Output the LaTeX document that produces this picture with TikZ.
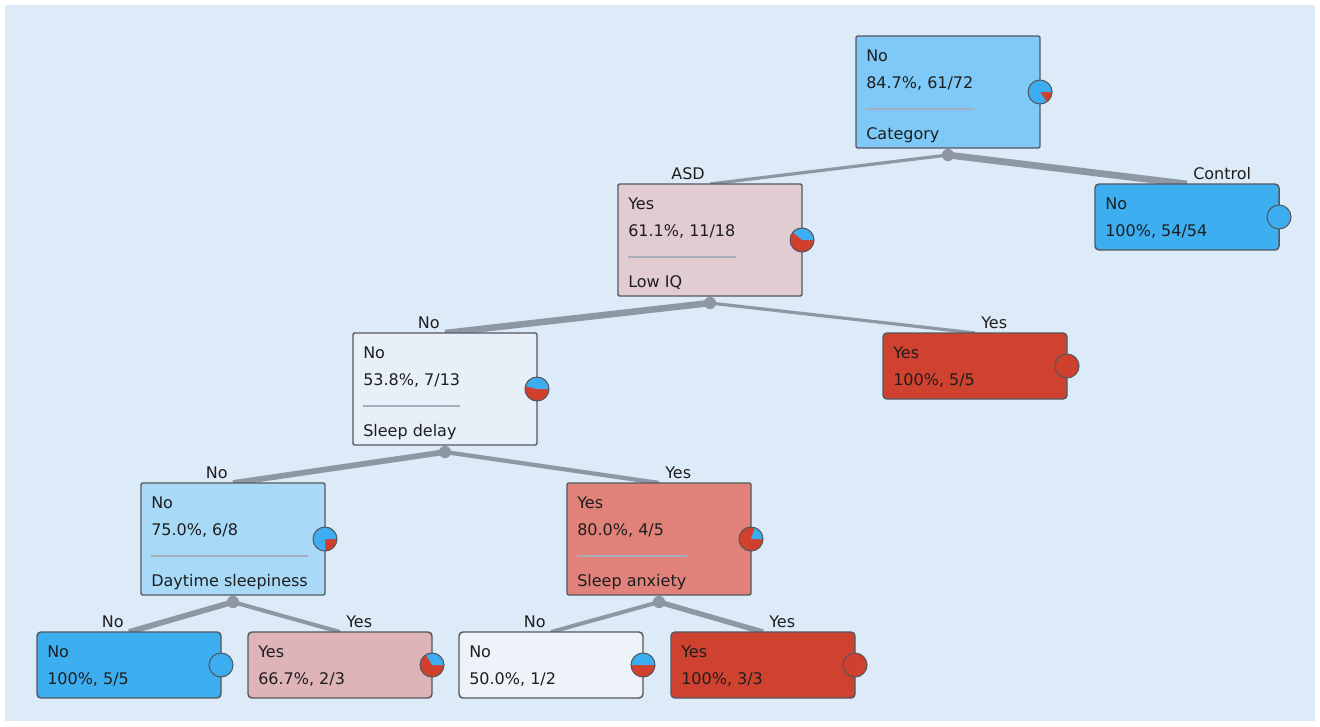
\documentclass[tikz,border=0pt]{standalone}
\usepackage{fontspec}
\setmainfont{DejaVu Sans}
\usetikzlibrary{calc}
\definecolor{panel}{HTML}{DDEAF7}
\definecolor{edgecol}{HTML}{8E97A4}
\definecolor{boxline}{HTML}{54585E}
\definecolor{sepcol}{HTML}{A6AEB9}
\definecolor{pblue}{HTML}{3BADF0}
\definecolor{pred}{HTML}{D0402C}
\definecolor{txtcol}{HTML}{1E1E1E}
\definecolor{fRoot}{HTML}{7FC9F8}
\definecolor{fAsd}{HTML}{E1CCD2}
\definecolor{fDelay}{HTML}{E7EFF8}
\definecolor{fDay}{HTML}{A8DAF8}
\definecolor{fAnx}{HTML}{E0827A}
\definecolor{fRed}{HTML}{D04230}
\definecolor{fPink}{HTML}{DFB4B9}
\definecolor{fWhite}{HTML}{EEF3F9}
\definecolor{fBlue}{HTML}{3DAEF0}
\pgfdeclarelayer{back}
\pgfdeclarelayer{edges}
\pgfsetlayers{back,edges,main}
\tikzset{
  treebox/.style={draw=boxline, line width=1.1pt, anchor=north west, minimum width=138pt,
    minimum height=84pt, inner sep=0pt, outer sep=0pt, rounded corners=1pt},
  leafbox/.style={treebox, minimum height=49.5pt, rounded corners=3pt},
  txt/.style={anchor=base west, inner sep=0pt, text=txtcol},
  elabel/.style={inner sep=0pt, text=txtcol},
  sepline/.style={draw=sepcol, line width=1.4pt},
  edge/.style={draw=edgecol},
  pieline/.style={draw=boxline, line width=0.8pt},
}
\newcommand\PieChart[2]{%
  \fill[pred] (#1) circle[radius=9pt];
  \fill[pblue] (#1) -- ++(0:9pt) arc[start angle=0, end angle=#2, radius=9pt] -- cycle;
  \draw[pieline] (#1) circle[radius=9pt];
}
\newcommand\InnerBox[8]{%
  \node[treebox, fill=#4] (#1) at (#2,#3) {};
  \node[txt] (#1-a) at ([shift={(10,25)}]#1.north west) {#5};
  \node[txt] (#1-b) at ([shift={(10,52)}]#1.north west) {#6};
  \node[txt] (#1-c) at ([shift={(10,103)}]#1.north west) {#7};
  \draw[sepline] let \p1=(#1-b.east), \p2=(#1-c.east), \p3=([shift={(10,73)}]#1.north west) in (\p3) -- ({max(\x1,\x2)},\y3);
  \PieChart{#1.east}{#8}
}
\newcommand\LeafBox[7]{%
  \node[leafbox, fill=#4] (#1) at (#2,#3) {};
  \node[txt] (#1-a) at ([shift={(10,25)}]#1.north west) {#5};
  \node[txt] (#1-b) at ([shift={(10,52)}]#1.north west) {#6};
  \PieChart{#1.east}{#7}
}
\begin{document}
\begin{tikzpicture}[x=0.75pt, y=-0.75pt, font=\fontsize{12pt}{14pt}\selectfont]
\useasboundingbox (0,0) rectangle (1320,726);
\begin{pgfonlayer}{back}
\fill[white] (0,0) rectangle (1320,726);
\fill[panel] (5,5) rectangle (1315,721);
\end{pgfonlayer}

% boxes
\InnerBox{root}{856}{36}{fRoot}{No}{84.7\%, 61/72}{Category}{305}
\InnerBox{asd}{618}{184}{fAsd}{Yes}{61.1\%, 11/18}{Low IQ}{140}
\LeafBox{ctrl}{1095}{184}{fBlue}{No}{100\%, 54/54}{360}
\InnerBox{delay}{353}{333}{fDelay}{No}{53.8\%, 7/13}{Sleep delay}{166}
\LeafBox{lowiq}{883}{333}{fRed}{Yes}{100\%, 5/5}{0}
\InnerBox{day}{141}{483}{fDay}{No}{75.0\%, 6/8}{Daytime sleepiness}{270}
\InnerBox{anx}{567}{483}{fAnx}{Yes}{80.0\%, 4/5}{Sleep anxiety}{72}
\LeafBox{dayno}{37}{632}{fBlue}{No}{100\%, 5/5}{360}
\LeafBox{dayyes}{248}{632}{fPink}{Yes}{66.7\%, 2/3}{120}
\LeafBox{anxno}{459}{632}{fWhite}{No}{50.0\%, 1/2}{180}
\LeafBox{anxyes}{671}{632}{fRed}{Yes}{100\%, 3/3}{0}

% split points
\coordinate (root-dot) at ([shift={(0,7)}]root.south);
\coordinate (asd-dot) at ([shift={(0,7)}]asd.south);
\coordinate (delay-dot) at ([shift={(0,7)}]delay.south);
\coordinate (day-dot) at ([shift={(0,7)}]day.south);
\coordinate (anx-dot) at ([shift={(0,7)}]anx.south);

% edges
\begin{pgfonlayer}{edges}
\draw[edge, line width=2.4pt] (root-dot) -- (asd.north);
\draw[edge, line width=5.1pt] (root-dot) -- (ctrl.north);
\draw[edge, line width=4.9pt] (asd-dot) -- (delay.north);
\draw[edge, line width=2.4pt] (asd-dot) -- (lowiq.north);
\draw[edge, line width=4.3pt] (delay-dot) -- (day.north);
\draw[edge, line width=3.2pt] (delay-dot) -- (anx.north);
\draw[edge, line width=4.3pt] (day-dot) -- (dayno.north);
\draw[edge, line width=3.0pt] (day-dot) -- (dayyes.north);
\draw[edge, line width=3.0pt] (anx-dot) -- (anxno.north);
\draw[edge, line width=4.0pt] (anx-dot) -- (anxyes.north);
\end{pgfonlayer}

% dots
\foreach \d in {root-dot,asd-dot,delay-dot,day-dot,anx-dot}
  \fill[edgecol] (\d) circle[radius=4.6pt];

% edge labels
\node[elabel, anchor=south east] (lab-asd) at ([shift={(-5,-4)}]asd.north) {ASD};
\node[elabel, anchor=south west] (lab-ctrl) at ([shift={(6,-4)}]ctrl.north) {Control};
\node[elabel, anchor=south east] (lab-delay) at ([shift={(-5,-4)}]delay.north) {No};
\node[elabel, anchor=south west] (lab-lowiq) at ([shift={(6,-4)}]lowiq.north) {Yes};
\node[elabel, anchor=south east] (lab-day) at ([shift={(-5,-4)}]day.north) {No};
\node[elabel, anchor=south west] (lab-anx) at ([shift={(6,-4)}]anx.north) {Yes};
\node[elabel, anchor=south east] (lab-dayno) at ([shift={(-5,-4)}]dayno.north) {No};
\node[elabel, anchor=south west] (lab-dayyes) at ([shift={(6,-4)}]dayyes.north) {Yes};
\node[elabel, anchor=south east] (lab-anxno) at ([shift={(-5,-4)}]anxno.north) {No};
\node[elabel, anchor=south west] (lab-anxyes) at ([shift={(6,-4)}]anxyes.north) {Yes};
\end{tikzpicture}
\end{document}
